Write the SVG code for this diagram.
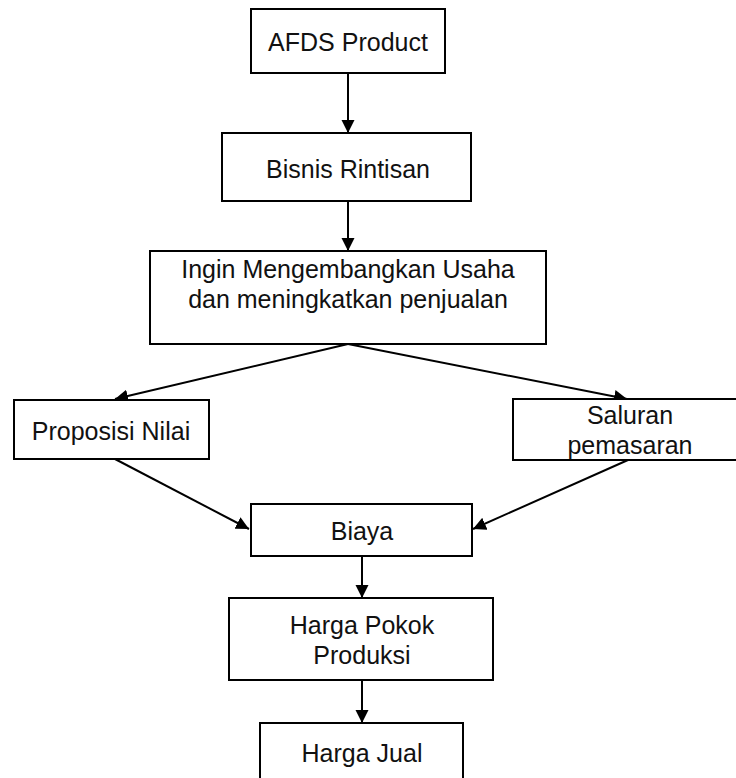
<svg xmlns="http://www.w3.org/2000/svg" width="736" height="778" viewBox="0 0 736 778">
<style>
.box{fill:#fff;stroke:#000;stroke-width:2}
.t{font-family:"Liberation Sans",Arial,sans-serif;font-size:25px;fill:#111;text-anchor:middle}
.c{stroke:#000;stroke-width:2;fill:none;marker-end:url(#ah)}
</style>
<defs>
<marker id="ah" markerUnits="userSpaceOnUse" markerWidth="14" markerHeight="14" viewBox="0 0 14 14" refX="13" refY="7" orient="auto">
<path d="M0,0.5 L13,7 L0,13.5 Z" fill="#000"/>
</marker>
</defs>
<rect width="736" height="778" fill="#fff"/>
<g id="connectors">
<line class="c" x1="348" y1="73" x2="348" y2="133"/>
<line class="c" x1="348" y1="201" x2="348" y2="251"/>
<line class="c" x1="348" y1="344" x2="115" y2="399"/>
<line class="c" x1="348" y1="344" x2="627" y2="399"/>
<line class="c" x1="115" y1="459" x2="249" y2="529"/>
<line class="c" x1="628" y1="460" x2="473" y2="529"/>
<line class="c" x1="362" y1="556" x2="362" y2="598"/>
<line class="c" x1="362" y1="680" x2="362" y2="723"/>
</g>
<g id="afds">
<rect class="box" x="251" y="9" width="194" height="64"/>
<text class="t" x="348" y="51">AFDS Product</text>
</g>
<g id="bisnis">
<rect class="box" x="222" y="133" width="249" height="68"/>
<text class="t" x="348" y="178">Bisnis Rintisan</text>
</g>
<g id="ingin">
<rect class="box" x="150" y="251" width="396" height="93"/>
<text class="t" x="348" y="278">Ingin Mengembangkan Usaha</text>
<text class="t" x="348" y="308">dan meningkatkan penjualan</text>
</g>
<g id="proposisi">
<rect class="box" x="14" y="400" width="195" height="59"/>
<text class="t" x="111" y="440">Proposisi Nilai</text>
</g>
<g id="saluran">
<rect class="box" x="513" y="399" width="230" height="61"/>
<text class="t" x="630" y="424">Saluran</text>
<text class="t" x="630" y="454">pemasaran</text>
</g>
<g id="biaya">
<rect class="box" x="251" y="504" width="221" height="52"/>
<text class="t" x="362" y="540">Biaya</text>
</g>
<g id="hpp">
<rect class="box" x="229" y="598" width="264" height="82"/>
<text class="t" x="362" y="634">Harga Pokok</text>
<text class="t" x="362" y="664">Produksi</text>
</g>
<g id="jual">
<rect class="box" x="260" y="723" width="203" height="70"/>
<text class="t" x="362" y="762">Harga Jual</text>
</g>
</svg>
